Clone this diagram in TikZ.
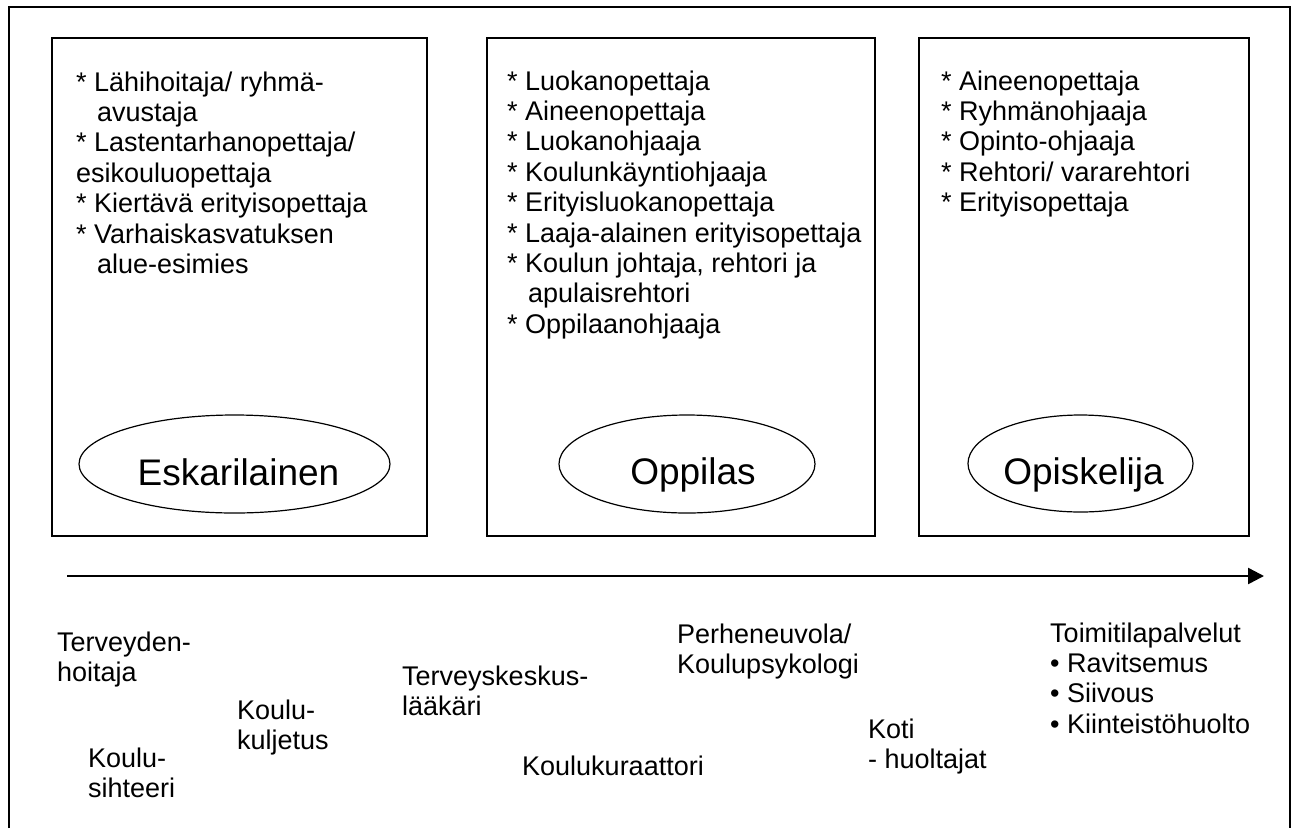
\documentclass[tikz,border=0pt]{standalone}
\usepackage{fontspec}
\setmainfont{Liberation Sans}
\usetikzlibrary{shapes.geometric,arrows.meta}
\newcommand{\ind}{\hspace*{21pt}}
\tikzset{
  frame/.style={line width=2pt},
  stagebox/.style={draw, line width=1.8pt},
  pupil/.style={draw, ellipse, line width=1.2pt, inner sep=0pt},
  pupiltext/.style={anchor=base, inner sep=0pt, font=\fontsize{37}{44}\selectfont},
  roles/.style={anchor=base west, inner sep=0pt, align=left, font=\fontsize{27}{30.4}\selectfont},
  timeline/.style={line width=2.5pt, -{Triangle[length=16pt,width=16pt]}}
}
\begin{document}
\begin{tikzpicture}[x=1pt,y=-1pt]
\useasboundingbox (0,0) rectangle (1295,828);
\draw[frame] (9,828) |- (1290,7) -- (1290,828);

\draw[stagebox] (52,38) rectangle (427,536);
\draw[stagebox] (487,38) rectangle (875,536);
\draw[stagebox] (919,38) rectangle (1249,536);

\node[roles] (eskroles) at (76,273.4) {* Lähihoitaja/ ryhmä-\\\ind avustaja\\* Lastentarhanopettaja/\\esikouluopettaja\\* Kiertävä erityisopettaja\\* Varhaiskasvatuksen\\\ind alue-esimies};
\node[roles] (opproles) at (507,333.2) {* Luokanopettaja\\* Aineenopettaja\\* Luokanohjaaja\\* Koulunkäyntiohjaaja\\* Erityisluokanopettaja\\* Laaja-alainen erityisopettaja\\* Koulun johtaja, rehtori ja\\\ind apulaisrehtori\\* Oppilaanohjaaja};
\node[roles] (opiroles) at (941,211.6) {* Aineenopettaja\\* Ryhmänohjaaja\\* Opinto-ohjaaja\\* Rehtori/ vararehtori\\* Erityisopettaja};

\node[pupil, minimum width=311pt, minimum height=98pt] (esk) at (234.5,464) {};
\node[pupil, minimum width=256pt, minimum height=98pt] (opp) at (687,464) {};
\node[pupil, minimum width=225pt, minimum height=97pt] (opi) at (1080.5,463.5) {};
\node[pupiltext] (eskname) at ([xshift=4pt,yshift=-21pt]esk.center) {Eskarilainen};
\node[pupiltext] (oppname) at ([xshift=6pt,yshift=-20pt]opp.center) {Oppilas};
\node[pupiltext] (opiname) at ([xshift=3pt,yshift=-21pt]opi.center) {Opiskelija};

\coordinate (t0) at (67,576);
\coordinate (t1) at (1264,576);
\draw[timeline] (t0) -- (t1);

\node[roles] (terv) at (57,681.4) {Terveyden-\\hoitaja};
\node[roles] (siht) at (88,797.4) {Koulu-\\sihteeri};
\node[roles] (kulj) at (237,749.4) {Koulu-\\kuljetus};
\node[roles] (laak) at (402,715.4) {Terveyskeskus-\\lääkäri};
\node[roles] (kura) at (522,775) {Koulukuraattori};
\node[roles] (perh) at (677,673.4) {Perheneuvola/\\Koulupsykologi};
\node[roles] (koti) at (868,768.4) {Koti\\- huoltajat};
\node[roles] (toim) at (1050,733.2) {Toimitilapalvelut\\• Ravitsemus\\• Siivous\\• Kiinteistöhuolto};
\end{tikzpicture}
\end{document}
